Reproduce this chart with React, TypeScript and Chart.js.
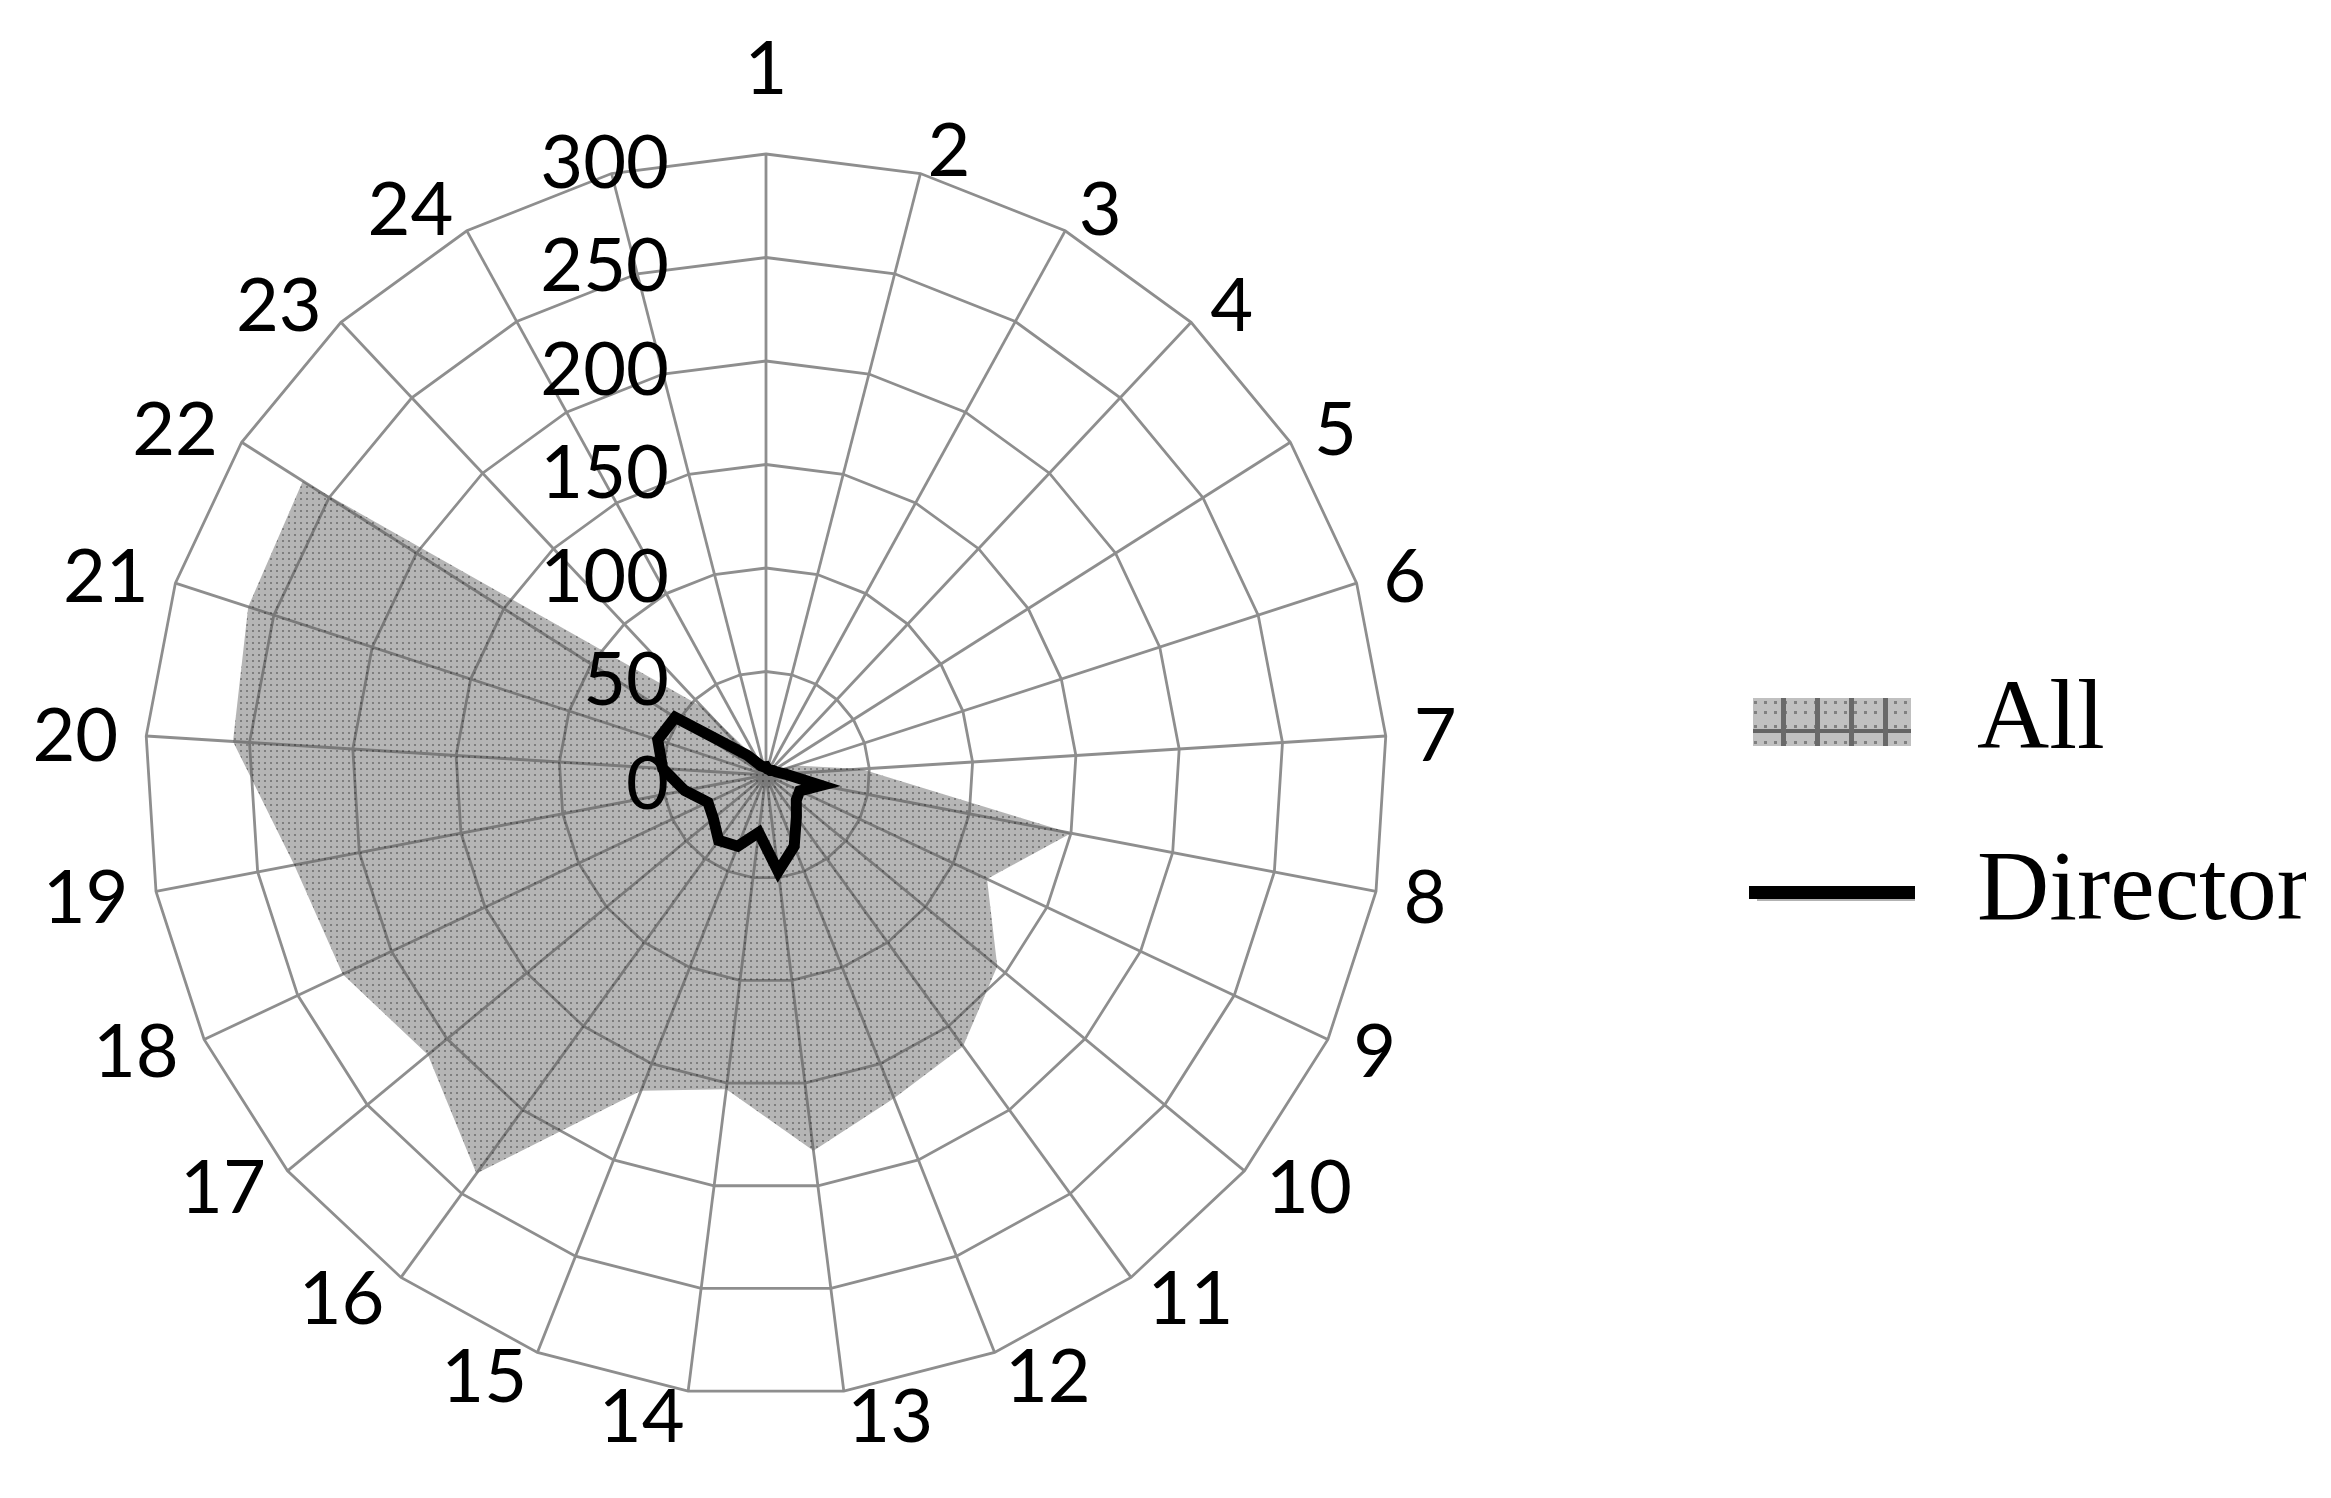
import React, { useEffect, useRef } from 'react';
import { Chart, registerables } from 'chart.js';

Chart.register(...registerables);

// ---- data ----
const categories = ['1', '2', '3', '4', '5', '6', '7', '8', '9', '10', '11', '12', '13', '14', '15', '16', '17', '18', '19', '20', '21', '22', '23', '24', ''];
const allValues = [5, 3, 3, 3, 5, 15, 46, 150, 118, 145, 162, 168, 183, 153, 164, 238, 212, 226, 232, 258, 263, 265, 45, 8, 5];
const directorValues = [4, 3, 3, 3, 4, 5, 9, 27, 18, 19, 25, 37, 47, 28, 37, 39, 33, 31, 40, 50, 55, 52, 13, 5, 4];
const tickValues = [0, 50, 100, 150, 200, 250, 300];
const seriesNames = ['All', 'Director'];

// ---- style ----
const W = 2331;
const H = 1498;
const LABEL_FONT = 74;
const LEGEND_FONT = 100;
const GRID = '#8e8e8e';

function makeFillPattern(): CanvasPattern | string {
  const c = document.createElement('canvas');
  c.width = 6;
  c.height = 6;
  const g = c.getContext('2d');
  if (!g) return 'rgba(100,100,100,0.48)';
  g.fillStyle = 'rgba(100,100,100,0.48)';
  g.fillRect(0, 0, 6, 6);
  g.clearRect(0, 0, 2, 2);
  g.fillStyle = 'rgba(40,40,40,0.6)';
  g.fillRect(0, 0, 2, 2);
  const p = g.createPattern(c, 'repeat');
  return p || 'rgba(100,100,100,0.48)';
}

function makeAllSwatch(): HTMLCanvasElement {
  const c = document.createElement('canvas');
  c.width = 158;
  c.height = 48;
  const g = c.getContext('2d')!;
  g.fillStyle = 'rgb(192,192,192)';
  g.fillRect(0, 0, 158, 48);
  g.fillStyle = 'rgb(128,128,128)';
  for (const y of [3, 13, 27, 43]) {
    for (let x = 1; x < 158; x += 10) g.fillRect(x, y, 3, 3);
  }
  g.fillStyle = 'rgb(100,100,100)';
  g.fillRect(0, 31, 158, 4);
  g.fillStyle = 'rgb(105,105,105)';
  for (const x of [28, 62, 96, 130]) g.fillRect(x, 0, 5, 48);
  return c;
}

function makeLineSwatch(): HTMLCanvasElement {
  const c = document.createElement('canvas');
  c.width = 166;
  c.height = 16;
  const g = c.getContext('2d')!;
  g.fillStyle = 'rgba(0,0,0,0.3)';
  g.fillRect(8, 13, 158, 3);
  g.fillStyle = '#000';
  g.fillRect(0, 1, 166, 13);
  return c;
}

const labelPlugin = {
  id: 'excelRadarLabels',
  afterDatasetsDraw(chart: any) {
    const scale = chart.scales.r;
    const ctx: CanvasRenderingContext2D = chart.ctx;
    ctx.save();
    ctx.fillStyle = '#000';
    ctx.font = `${LABEL_FONT}px Lato`;
    ctx.textBaseline = 'alphabetic';
    const capH = 0.7165 * LABEL_FONT;
    // value axis labels, right-aligned left of the first spoke
    ctx.textAlign = 'right';
    for (const v of tickValues) {
      const d = scale.getDistanceFromCenterForValue(v);
      ctx.fillText(String(v), scale.xCenter - 97, scale.yCenter - d + 7 + capH / 2);
    }
    // category labels around the outside
    ctx.textAlign = 'center';
    const n = categories.length;
    const R = scale.drawingArea;
    categories.forEach((lab, i) => {
      if (!lab) return;
      const p = scale.getPointPosition(i, R);
      const th = (i * 2 * Math.PI) / n;
      const s = Math.sin(th);
      const c = Math.cos(th);
      const w = ctx.measureText(lab).width;
      let cx: number;
      let cy: number;
      if (Math.abs(s) < 0.01) {
        cx = p.x;
        cy = p.y - c * 87;
      } else {
        cx = p.x + Math.sign(s) * (w / 2 + 28 * Math.abs(s));
        cy = p.y - 25 * c;
      }
      ctx.fillText(lab, cx, cy + capH / 2);
    });
    ctx.restore();
  },
};

export default function App() {
  const ref = useRef<HTMLCanvasElement>(null);

  useEffect(() => {
    document.body.style.margin = '0';
    const canvas = ref.current;
    if (!canvas) return;
    const fill = makeFillPattern();
    const swatches = [makeAllSwatch(), makeLineSwatch()];

    const chart = new Chart(canvas, {
      type: 'radar',
      data: {
        labels: categories,
        datasets: [
          {
            label: seriesNames[0],
            data: allValues,
            backgroundColor: fill as any,
            borderColor: 'rgba(0,0,0,0)',
            borderWidth: 0,
            fill: 'origin',
            pointRadius: 0,
            pointHoverRadius: 0,
            order: 2,
          },
          {
            label: seriesNames[1],
            data: directorValues,
            backgroundColor: 'rgba(0,0,0,0)',
            borderColor: '#000',
            borderWidth: 11,
            borderJoinStyle: 'miter',
            fill: false,
            pointRadius: 0,
            pointHoverRadius: 0,
            order: 1,
          },
        ],
      },
      options: {
        responsive: false,
        animation: false,
        devicePixelRatio: 1,
        layout: { padding: { top: 117, bottom: 0, left: 0, right: 25 } },
        elements: { line: { tension: 0 } },
        scales: {
          r: {
            min: 0,
            max: 300,
            startAngle: 0,
            ticks: { stepSize: 50, display: false },
            grid: { color: GRID, lineWidth: 2.8, circular: false },
            angleLines: { display: true, color: GRID, lineWidth: 2.8 },
            pointLabels: { display: false },
            afterFit: (scale: any) => {
              scale.xCenter = 766;
              scale.yCenter = 775;
              scale.drawingArea = 621;
            },
          } as any,
        },
        plugins: {
          tooltip: { enabled: false },
          title: { display: false },
          legend: {
            display: true,
            position: 'right',
            align: 'center',
            maxWidth: 640,
            labels: {
              usePointStyle: true,
              pointStyleWidth: 190,
              padding: 71,
              color: '#000',
              font: { family: 'Liberation Serif', size: LEGEND_FONT },
              generateLabels: (ch: any) =>
                ch.data.datasets.map((ds: any, i: number) => ({
                  text: ds.label,
                  datasetIndex: i,
                  pointStyle: swatches[i],
                  fillStyle: 'rgba(0,0,0,0)',
                  strokeStyle: 'rgba(0,0,0,0)',
                  lineWidth: 0,
                  hidden: false,
                  fontColor: '#000',
                })),
            },
          },
        },
      },
      plugins: [labelPlugin],
    });

    return () => chart.destroy();
  }, []);

  return (
    <canvas
      ref={ref}
      width={W}
      height={H}
      style={{ display: 'block', width: W, height: H }}
    />
  );
}
